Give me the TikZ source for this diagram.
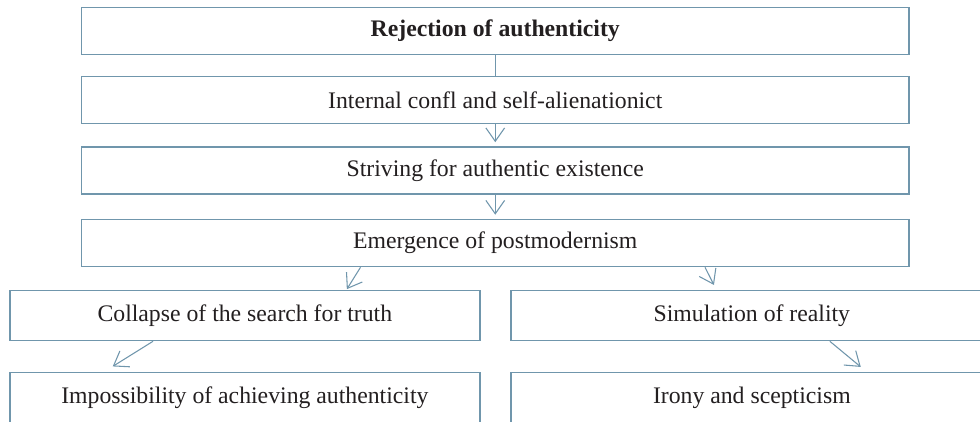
\documentclass[tikz,border=0pt]{standalone}
\usepackage{fontspec}
\setmainfont{Liberation Serif}
\usetikzlibrary{arrows.meta,calc}

\definecolor{boxline}{RGB}{112,150,172}
\definecolor{boxtext}{RGB}{35,31,32}

\tikzset{every picture/.style={line width=0.75pt}}
\tikzset{
	flowbox/.style={draw=boxline, line width=1.2pt, fill=white, text=boxtext, inner sep=0pt,
		font=\fontsize{17.8}{20}\selectfont},
	widebox/.style={flowbox, minimum width=620.6pt, minimum height=35.25pt},
	leftbox/.style={flowbox, minimum width=352.7pt, minimum height=37.5pt},
	rightbox/.style={flowbox, minimum width=361.7pt, minimum height=37.5pt},
	flowarrow/.style={draw=boxline, line width=0.8pt, -{Straight Barb[length=10pt,width=14pt]}}
}

\begin{document}
\begin{tikzpicture}[x=0.75pt,y=0.75pt,yscale=-1,xscale=1]
	\useasboundingbox (0,0) rectangle (980,421);
	\clip (0,0) rectangle (980,421);

	%Shape: Rectangle, top column
	\node[widebox] (reject) at (495.25,31) {\textbf{Rejection of authenticity}};
	\node[widebox] (conflict) at (495.25,100) {Internal confl and self-alienationict};
	\node[widebox] (striving) at (495.25,170.5) {Striving for authentic existence};
	\node[widebox] (emerg) at (495.25,243) {Emergence of postmodernism};

	%Shape: Rectangle, left branch
	\node[leftbox] (collapse) at (244.85,315.5) {Collapse of the search for truth};
	\node[leftbox] (imposs) at (244.85,397.5) {Impossibility of achieving authenticity};

	%Shape: Rectangle, right branch
	\node[rightbox] (simul) at (751.85,315.5) {Simulation of reality};
	\node[rightbox] (irony) at (751.85,397.5) {Irony and scepticism};

	% Connectors
	\draw [draw=boxline, line width=0.8pt] (reject.south) -- (conflict.north);
	\draw [flowarrow, shorten >=3pt] (conflict.south) -- (striving.north);
	\draw [flowarrow, shorten >=3pt] (striving.south) -- (emerg.north);
	\draw [flowarrow, shorten >=0.5pt] ($(emerg.south)+(-134.75,0)$) -- ($(collapse.north)+(101.65,0)$);
	\draw [flowarrow, shorten >=4pt] ($(emerg.south)+(209.75,0)$) -- ($(simul.north)+(-35.5,0)$);
	\draw [flowarrow, shorten >=7.5pt] ($(collapse.south)+(-91.85,0)$) -- ($(imposs.north)+(-140.6,0)$);
	\draw [flowarrow, shorten >=5.6pt] ($(simul.south)+(78,0)$) -- ($(irony.north)+(114.65,0)$);

\end{tikzpicture}
\end{document}
